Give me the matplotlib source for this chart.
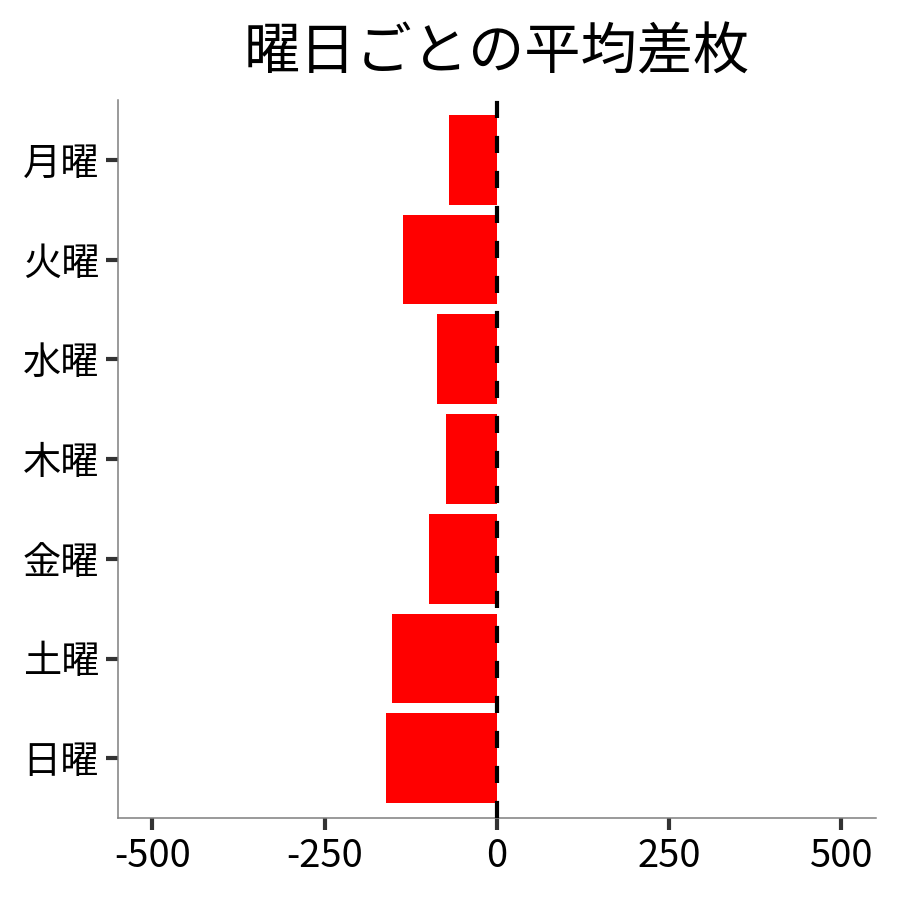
import matplotlib
matplotlib.use("Agg")
import matplotlib.pyplot as plt

plt.rcParams['font.family'] = ['Noto Sans CJK JP', 'DejaVu Sans']

# データ
days = ["月曜", "火曜", "水曜", "木曜", "金曜", "土曜", "日曜"]
avg_diff = [-69, -136, -87, -74, -98, -152, -161]
xticks = [-500, -250, 0, 250, 500]

fig = plt.figure(figsize=(9, 9), dpi=100)
ax = fig.add_axes([0.131, 0.091, 0.842, 0.798])

ypos = list(range(len(days)))
ax.barh(ypos, avg_diff, height=0.9, color="red", zorder=2)
ax.axvline(0, color="black", lw=3.0, dashes=(4.1, 4.3), zorder=3)

ax.set_xlim(-550, 550)
ax.set_ylim(6.6, -0.6)
ax.set_yticks(ypos)
ax.set_yticklabels(days)
ax.set_xticks(xticks)
ax.set_xticklabels([str(v) for v in xticks])

for s in ["top", "right"]:
    ax.spines[s].set_visible(False)
for s in ["left", "bottom"]:
    ax.spines[s].set_color("#7f7f7f")
    ax.spines[s].set_linewidth(1.1)

ax.tick_params(axis="both", length=8.5, width=3, color="#333333",
               labelsize=27.5, labelcolor="black", pad=5)

ax.set_title("曜日ごとの平均差枚", fontsize=40.5, pad=22)

fig.savefig("out.png", dpi=100)
